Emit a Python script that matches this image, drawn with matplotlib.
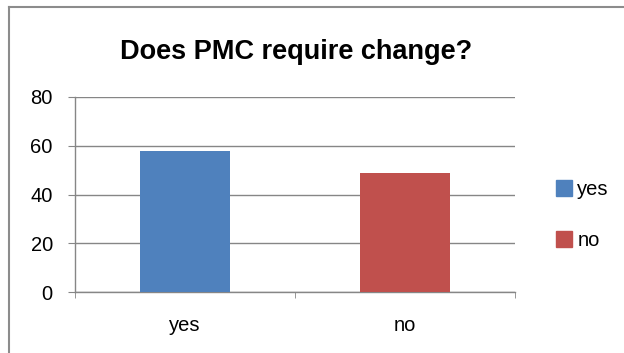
import matplotlib.pyplot as plt
from matplotlib.patches import Patch
from matplotlib.lines import Line2D

categories = ['yes', 'no']
values = [58, 49]
colors = ['#4f81bd', '#c0504d']
yticks = [0, 20, 40, 60, 80]

plt.rcParams['font.family'] = ['Liberation Sans Narrow', 'Liberation Sans', 'DejaVu Sans']

W, H = 624, 353
fig = plt.figure(figsize=(W / 100, H / 100), dpi=100)

# chart frame (only top and left edges fall inside the image)
fig.add_artist(Line2D([9 / W, 9 / W], [0, 1 - 7 / H], color='#8c8c8c', lw=1.5))
fig.add_artist(Line2D([9 / W, 1], [1 - 7 / H, 1 - 7 / H], color='#8c8c8c', lw=1.5))

ax = fig.add_axes([75 / W, 1 - 292 / H, 440 / W, 195 / H])
ax.bar(range(len(categories)), values, width=0.405, color=colors, zorder=3)

ax.set_xlim(-0.5, len(categories) - 0.5)
ax.set_ylim(0, 80)
ax.set_yticks(yticks)
ax.set_xticks(range(len(categories)))
ax.set_xticklabels(categories)
ax.set_xticks([-0.5, 0.5, 1.5], minor=True)

grid_c = '#868686'
ax.grid(axis='y', color=grid_c, lw=1, zorder=0)
for s in ['top', 'right']:
    ax.spines[s].set_visible(False)
for s in ['left', 'bottom']:
    ax.spines[s].set_color(grid_c)
    ax.spines[s].set_linewidth(1)

ax.tick_params(axis='y', length=5, color=grid_c, labelsize=14.5, pad=11)
ax.tick_params(axis='x', which='major', length=0, labelsize=14.5, pad=17)
ax.tick_params(axis='x', which='minor', length=4, color=grid_c, direction='out')

fig.text(296 / W, 1 - 59 / H, 'Does PMC require change?', ha='center', va='baseline',
         fontsize=19.5, fontweight='bold')

handles = [Patch(color=c, label=l) for c, l in zip(colors, categories)]
fig.legend(handles=handles, loc='center left', bbox_to_anchor=(538 / W, 1 - 215 / H),
           frameon=False, fontsize=14.5, handlelength=0.8, handleheight=0.8,
           handletextpad=0.25, labelspacing=1.6)

fig.savefig('out.png', dpi=100)
